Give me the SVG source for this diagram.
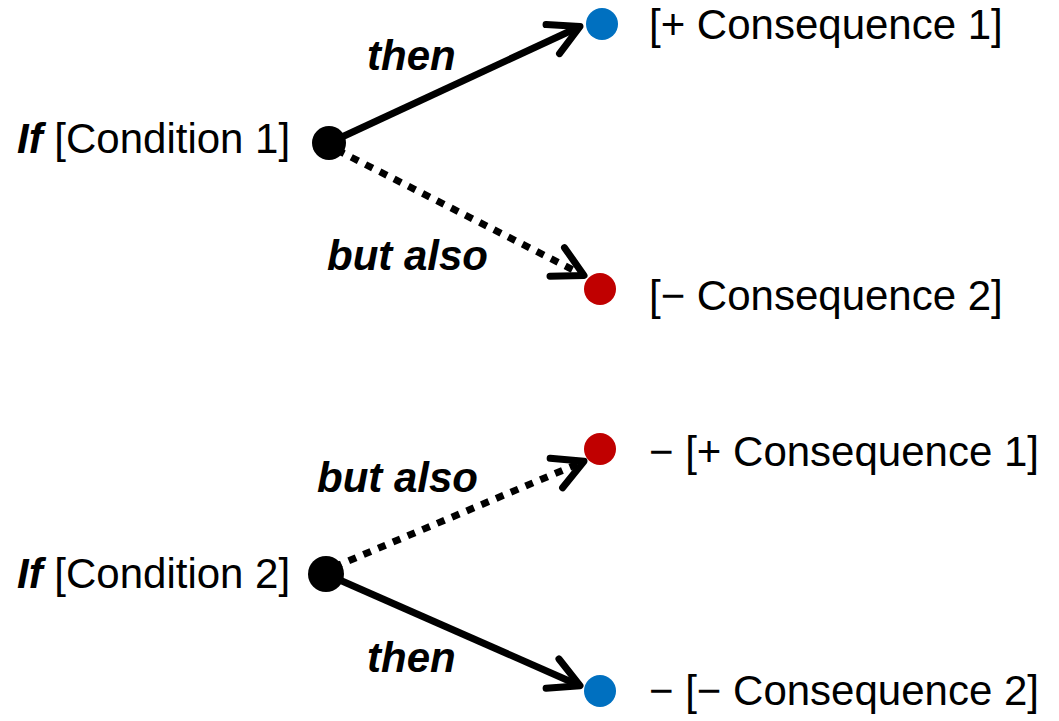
<svg xmlns="http://www.w3.org/2000/svg" width="1059" height="721" viewBox="0 0 1059 721">
<style>
text{font-family:"Liberation Sans",Arial,sans-serif;font-size:42px;fill:#000}
.bi{font-weight:bold;font-style:italic}
.lbl{font-weight:bold;font-style:italic;font-size:42px}
.solid{stroke:#000;stroke-width:7;fill:none}
.dash{stroke:#000;stroke-width:7;fill:none;stroke-dasharray:8 8}
.src{fill:#000}
.pos{fill:#0070C0}
.neg{fill:#C00000}
</style>
<defs>
<marker id="arr" viewBox="-38 -24 46 48" refX="0" refY="0" markerWidth="46" markerHeight="48" markerUnits="userSpaceOnUse" orient="auto">
<path d="M-30,-16 L0,0 L-30,16" fill="none" stroke="#000" stroke-width="7" stroke-linecap="round" stroke-linejoin="round"/>
</marker>
</defs>
<g id="connectors">
<line class="solid" x1="329" y1="143" x2="580" y2="26.5" marker-end="url(#arr)"/>
<line class="dash" x1="337" y1="150" x2="584" y2="275.5" marker-end="url(#arr)"/>
<line class="dash" x1="334" y1="567" x2="584" y2="461.3" marker-end="url(#arr)"/>
<line class="solid" x1="326" y1="574" x2="580" y2="685.7" marker-end="url(#arr)"/>
<text class="lbl" x="367" y="70">then</text>
<text class="lbl" x="327" y="270">but also</text>
<text class="lbl" x="317" y="492">but also</text>
<text class="lbl" x="367" y="672">then</text>
</g>
<g id="cond1">
<circle class="src" cx="329" cy="143" r="17"/>
<text x="17" y="153"><tspan class="bi">If</tspan> [Condition 1]</text>
</g>
<g id="cons1a">
<circle class="pos" cx="602" cy="24" r="16"/>
<text x="649" y="39">[+ Consequence 1]</text>
</g>
<g id="cons2a">
<circle class="neg" cx="600" cy="289" r="16"/>
<text x="649" y="310">[− Consequence 2]</text>
</g>
<g id="cond2">
<circle class="src" cx="326" cy="574" r="18"/>
<text x="17" y="588"><tspan class="bi">If</tspan> [Condition 2]</text>
</g>
<g id="cons1b">
<circle class="neg" cx="600" cy="449" r="16"/>
<text x="649" y="466">− [+ Consequence 1]</text>
</g>
<g id="cons2b">
<circle class="pos" cx="600" cy="691" r="16"/>
<text x="649" y="705">− [− Consequence 2]</text>
</g>
</svg>
